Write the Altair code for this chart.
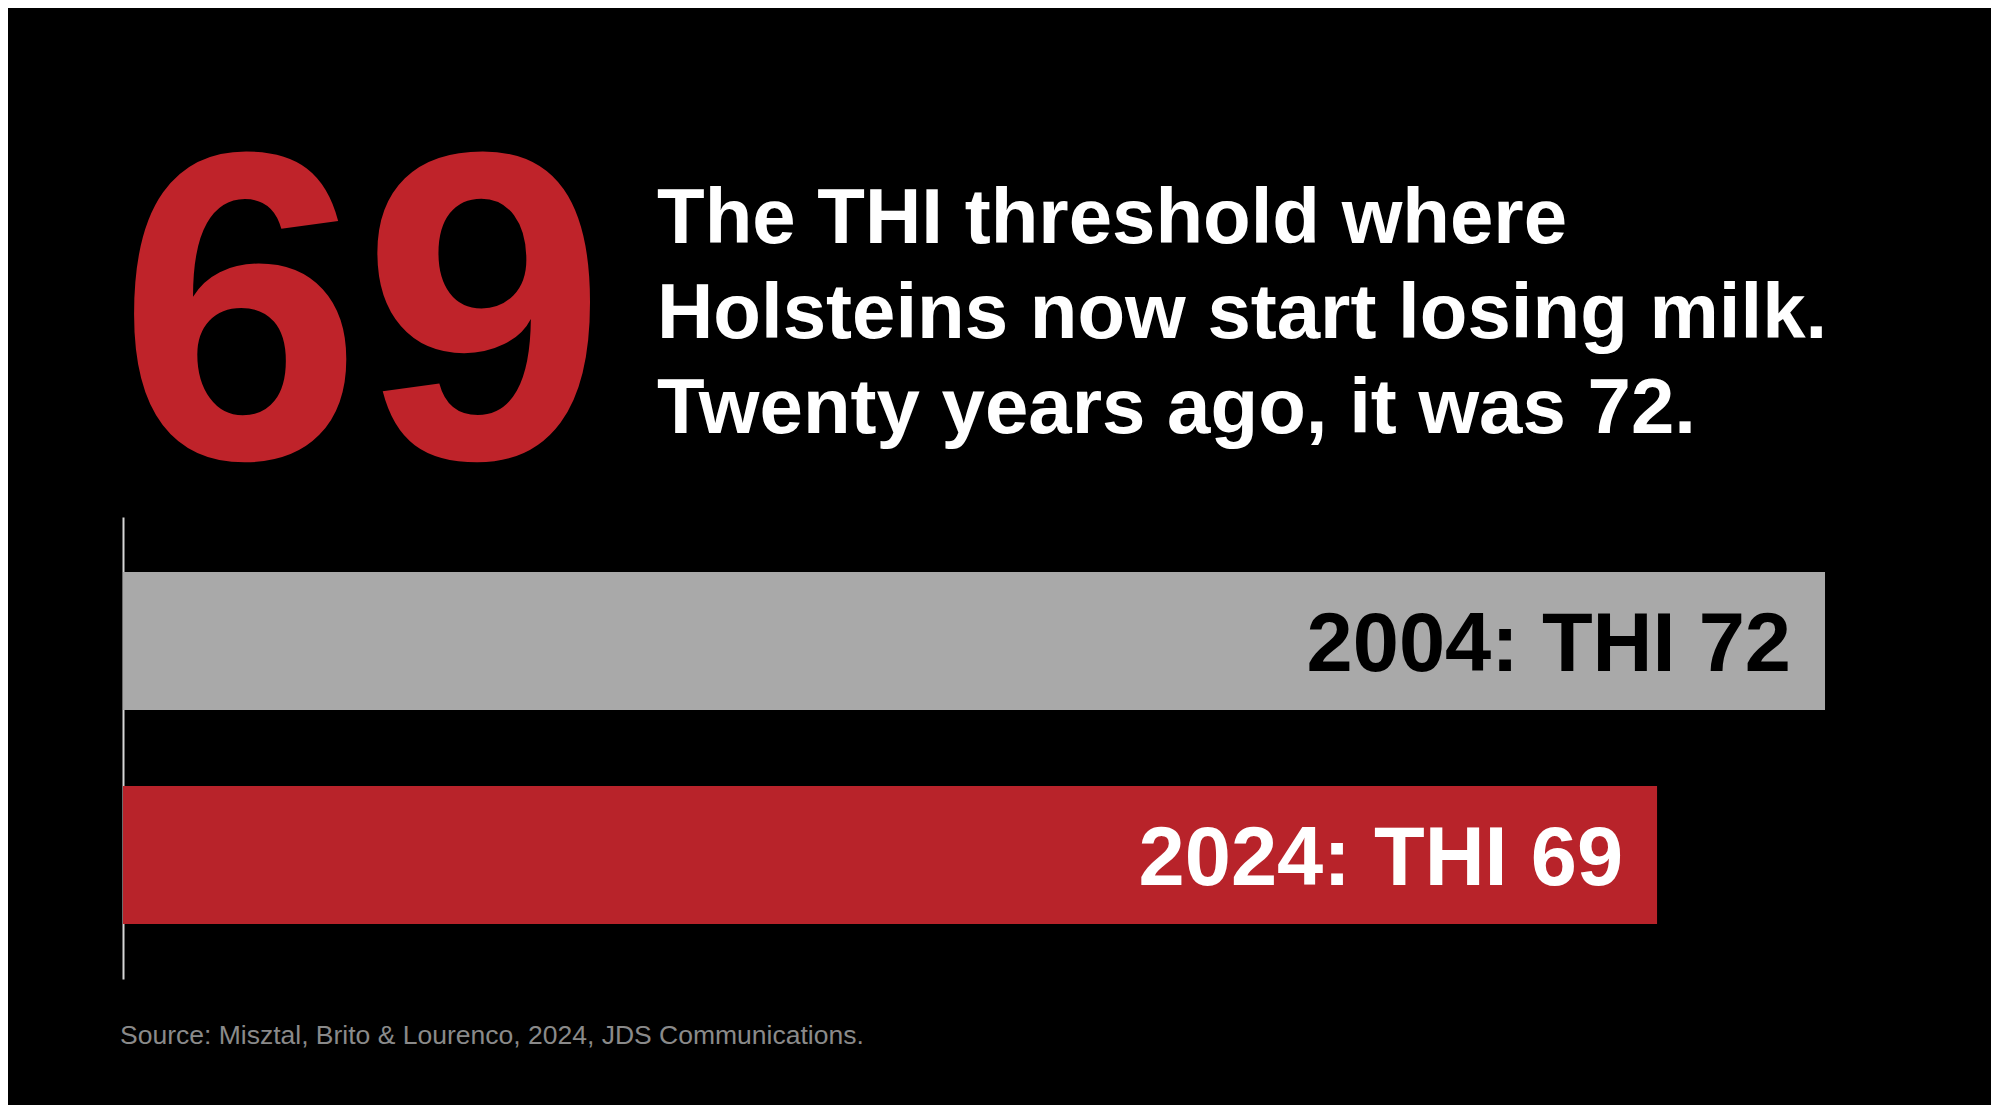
import altair as alt
import pandas as pd

# ---- data ----
years = ["2004", "2024"]
thi = [72, 69]
bar_labels = ["2004: THI 72", "2024: THI 69"]
bar_colors = ["#a9a9a9", "#b8232a"]
label_colors = ["#000000", "#ffffff"]

big_number = ["69"]
headline_lines = [
    "The THI threshold where",
    "Holsteins now start losing milk.",
    "Twenty years ago, it was 72.",
]
source_text = ["Source: Misztal, Brito & Lourenco, 2024, JDS Communications."]

FONT = "Liberation Sans"

df = pd.DataFrame({"year": years, "thi": thi, "label": bar_labels, "lc": label_colors})

x_scale = alt.Scale(domain=[41.6, 73], zero=False, nice=False, clamp=True)
y_scale = alt.Scale(domain=years, paddingInner=0.355, paddingOuter=0.257)

base = alt.Chart(df)

bars = base.mark_bar().encode(
    x=alt.X("thi:Q", scale=x_scale, axis=None),
    y=alt.Y(
        "year:N",
        scale=y_scale,
        axis=alt.Axis(
            labels=False, ticks=False, title=None, domain=True,
            domainColor="#d6d6d6", domainWidth=2, grid=False,
        ),
    ),
    color=alt.Color("year:N", scale=alt.Scale(domain=years, range=bar_colors), legend=None),
)

labels = base.mark_text(
    align="right", baseline="alphabetic", dx=-34, dy=30,
    font=FONT, fontWeight="bold", fontSize=83,
).encode(
    x=alt.X("thi:Q", scale=x_scale),
    y=alt.Y("year:N", scale=y_scale, bandPosition=0.5),
    text="label:N",
    color=alt.Color("lc:N", scale=None),
)

big = alt.Chart(pd.DataFrame({"t": big_number})).mark_text(
    align="left", baseline="alphabetic", font=FONT, fontWeight="bold",
    fontSize=439, color="#bf232a",
).encode(text="t:N", x=alt.value(-5), y=alt.value(-59))

headline = alt.Chart(pd.DataFrame({"t": ["\n".join(headline_lines)]})).mark_text(
    align="left", baseline="alphabetic", font=FONT, fontWeight="bold",
    fontSize=78, lineHeight=95, lineBreak="\n", color="#ffffff",
).encode(text="t:N", x=alt.value(534), y=alt.value(-274))

source = alt.Chart(pd.DataFrame({"t": source_text})).mark_text(
    align="left", baseline="alphabetic", font=FONT, fontSize=26.5, color="#8a8a8a",
).encode(text="t:N", x=alt.value(-3), y=alt.value(527))

chart = alt.layer(bars, labels, big, headline, source).resolve_scale(
    color="independent"
).properties(
    width=1758,
    height=462,
    autosize=alt.AutoSizeParams(type="none"),
    padding={"left": 115, "top": 509, "right": 110, "bottom": 126},
).configure(background="#000000").configure_view(stroke=None)

chart.save("out.html", embed_options={"renderer": "svg", "actions": False})
